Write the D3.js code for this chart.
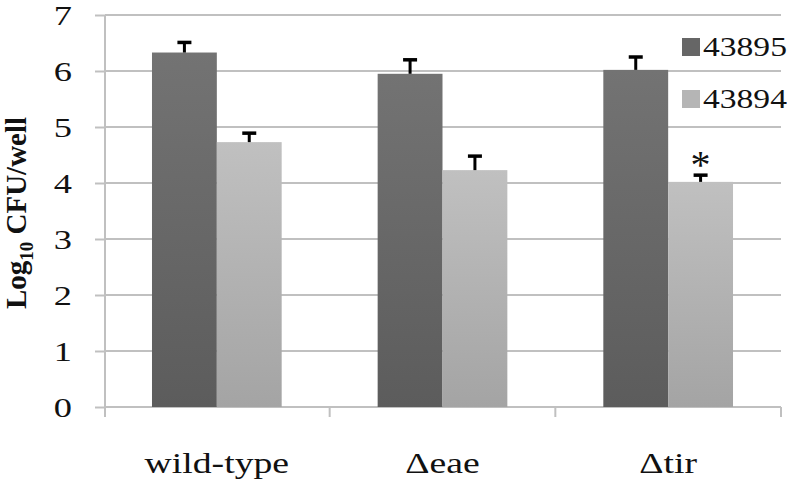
<!DOCTYPE html>
<html>
<head>
<meta charset="utf-8">
<script src="https://cdn.jsdelivr.net/npm/d3@7"></script>
<style>
  body { margin: 0; background: #fff; }
  text { font-family: "Liberation Serif", "DejaVu Serif", serif; fill: #111; }
</style>
</head>
<body>
<svg id="chart" width="787" height="482"></svg>
<script>
// data
var categories = ["wild-type", "\u0394eae", "\u0394tir"];
var series = ["43895", "43894"];
var values43895 = [6.33, 5.95, 6.02];
var values43894 = [4.73, 4.23, 4.02];
var errors43895 = [0.18, 0.25, 0.23];
var errors43894 = [0.16, 0.25, 0.12];
var yTicks = [0, 1, 2, 3, 4, 5, 6, 7];
var starMarks = [{category: "\u0394tir", series: "43894", text: "*"}];

var svg = d3.select("#chart");
var plotLeft = 105, plotRight = 781, plotTop = 15, plotBottom = 407;
var stretch = 1.3; // the figure's text is drawn wide

var y = d3.scaleLinear().domain([0, 7]).range([plotBottom, plotTop]);
var x0 = d3.scaleBand().domain(categories).range([104, plotRight]).padding(0);
var x1 = d3.scaleBand().domain(series).range([0, x0.bandwidth()]).paddingInner(0).paddingOuter(0.74);

var rows = categories.map(function(c, i) {
    return {category: c, values: [
        {series: "43895", value: values43895[i], err: errors43895[i]},
        {series: "43894", value: values43894[i], err: errors43894[i]}
    ]};
});

// gradients for the bars
var defs = svg.append("defs");
function grad(id, c1, c2) {
    var g = defs.append("linearGradient").attr("id", id)
        .attr("x1", 0).attr("y1", 0).attr("x2", 0).attr("y2", 1);
    g.append("stop").attr("offset", "0%").attr("stop-color", c1);
    g.append("stop").attr("offset", "100%").attr("stop-color", c2);
}
grad("gDark", "#737373", "#5c5c5c");
grad("gLight", "#c0c0c0", "#a4a4a4");
var fill = d3.scaleOrdinal().domain(series).range(["url(#gDark)", "url(#gLight)"]);
var legendFill = d3.scaleOrdinal().domain(series).range(["#666", "#b5b5b5"]);

// gridlines
svg.append("g").selectAll("line")
    .data(yTicks)
    .enter().append("line")
    .attr("x1", plotLeft).attr("x2", plotRight)
    .attr("y1", function(d) { return y(d); })
    .attr("y2", function(d) { return y(d); })
    .style("stroke", "#c0c0c0").style("stroke-width", 2);

// y axis
var yAxis = svg.append("g")
    .attr("transform", "translate(" + plotLeft + ",0)")
    .call(d3.axisLeft(y).tickValues(yTicks).tickFormat(d3.format("d")).tickSize(10).tickPadding(23));
yAxis.select(".domain").remove();
yAxis.selectAll(".tick line").style("stroke", "#c0c0c0").style("stroke-width", 2);
yAxis.selectAll(".tick text")
    .style("font-size", "28px")
    .attr("dy", "0.34em")
    .attr("transform", function() {
        var xx = +d3.select(this).attr("x");
        return "translate(" + xx + ",0) scale(" + stretch + ",1) translate(" + (-xx) + ",0)";
    });
svg.append("line")
    .attr("x1", plotLeft).attr("x2", plotLeft).attr("y1", plotTop).attr("y2", plotBottom + 10)
    .style("stroke", "#c0c0c0").style("stroke-width", 2);

// x axis boundary ticks
var bounds = categories.map(function(c) { return x0(c); }).concat([x0(categories[2]) + x0.bandwidth()]);
svg.append("g").selectAll("line")
    .data(bounds.slice(1))
    .enter().append("line")
    .attr("x1", function(d) { return d; }).attr("x2", function(d) { return d; })
    .attr("y1", plotBottom).attr("y2", plotBottom + 10)
    .style("stroke", "#c0c0c0").style("stroke-width", 2);

// category labels
svg.append("g").selectAll("text")
    .data(categories)
    .enter().append("text")
    .attr("transform", function(d) { return "translate(" + (x0(d) + x0.bandwidth() / 2) + ",473) scale(" + stretch + ",1)"; })
    .attr("text-anchor", "middle")
    .style("font-size", "29px")
    .text(function(d) { return d; });

// bars
var groups = svg.append("g").selectAll("g")
    .data(rows)
    .enter().append("g")
    .attr("transform", function(d) { return "translate(" + x0(d.category) + ",0)"; });

groups.selectAll("rect")
    .data(function(d) { return d.values; })
    .enter().append("rect")
    .attr("x", function(d) { return x1(d.series); })
    .attr("width", x1.bandwidth())
    .attr("y", function(d) { return y(d.value); })
    .attr("height", function(d) { return y(0) - y(d.value); })
    .style("fill", function(d) { return fill(d.series); });

// error bars (upper only)
var err = groups.selectAll("g.err")
    .data(function(d) { return d.values; })
    .enter().append("g").attr("class", "err");
err.append("line")
    .attr("x1", function(d) { return x1(d.series) + x1.bandwidth() / 2; })
    .attr("x2", function(d) { return x1(d.series) + x1.bandwidth() / 2; })
    .attr("y1", function(d) { return y(d.value); })
    .attr("y2", function(d) { return y(d.value + d.err); })
    .style("stroke", "#000").style("stroke-width", 3);
err.append("line")
    .attr("x1", function(d) { return x1(d.series) + x1.bandwidth() / 2 - 7; })
    .attr("x2", function(d) { return x1(d.series) + x1.bandwidth() / 2 + 7; })
    .attr("y1", function(d) { return y(d.value + d.err); })
    .attr("y2", function(d) { return y(d.value + d.err); })
    .style("stroke", "#000").style("stroke-width", 3.5);

// significance mark
svg.append("g").selectAll("text")
    .data(starMarks)
    .enter().append("text")
    .attr("x", function(d) {
        return x0(d.category) + x1(d.series) + x1.bandwidth() / 2;
    })
    .attr("y", function(d) {
        var i = categories.indexOf(d.category);
        return y(values43894[i] + errors43894[i]) + 3;
    })
    .attr("text-anchor", "middle")
    .style("font-size", "40px")
    .text(function(d) { return d.text; });

// legend
var legend = svg.append("g").selectAll("g")
    .data(series)
    .enter().append("g")
    .attr("transform", function(d, i) { return "translate(682," + (38 + i * 52) + ")"; });
legend.append("rect")
    .attr("width", 18).attr("height", 18)
    .style("fill", function(d) { return legendFill(d); });
legend.append("text")
    .attr("transform", "translate(21,18) scale(1.2,1)")
    .style("font-size", "28px")
    .text(function(d) { return d; });

// y axis title
var title = svg.append("text")
    .attr("transform", "translate(26,213) rotate(-90)")
    .attr("text-anchor", "middle")
    .style("font-size", "29px")
    .style("font-weight", "bold");
title.append("tspan").text("Log");
title.append("tspan").attr("dy", 7).style("font-size", "19px").text("10");
title.append("tspan").attr("dy", -7).text(" CFU/well");
</script>
</body>
</html>
